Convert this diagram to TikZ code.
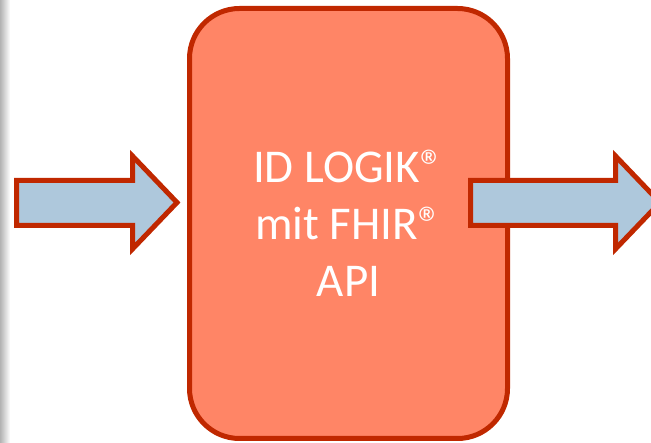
\documentclass[tikz,border=0pt]{standalone}
\usepackage{fontspec}
\setmainfont{Carlito}
\definecolor{boxfill}{RGB}{255,133,102}
\definecolor{edgered}{RGB}{192,40,0}
\definecolor{arrowfill}{RGB}{174,200,220}
\tikzset{
  mainbox/.style={draw=edgered, fill=boxfill, line width=5pt, rounded corners=50pt,
    minimum width=318pt, minimum height=430pt, inner sep=0pt},
  blockarrow/.style={draw=edgered, fill=arrowfill, line width=5pt, line join=miter},
  label/.style={text=white, font=\fontsize{47}{57}\selectfont, inner sep=0pt, anchor=base}
}
\begin{document}
\begin{tikzpicture}[x=1pt,y=-1pt]
\useasboundingbox (0,0) rectangle (651,443);
\shade[left color=gray!60, right color=white] (0,0) rectangle (10,443);
\node[mainbox] (box) at (348.5,223.5) {};
\node[label] (t1) at (348.5,183) {ID LOGIK®};
\node[label] (t2) at (348.5,240) {mit FHIR®};
\node[label] (t3) at (348.5,297) {API};
\draw[blockarrow] (16.5,180.5) -- (132.5,180.5) -- (132.5,156) -- (177,202.5)
  -- (132.5,249) -- (132.5,225.5) -- (16.5,225.5) -- cycle;
\draw[blockarrow] (470.5,180.5) -- (615.5,180.5) -- (615.5,156) -- (660,202.5)
  -- (615.5,249) -- (615.5,225.5) -- (470.5,225.5) -- cycle;
\end{tikzpicture}
\end{document}
